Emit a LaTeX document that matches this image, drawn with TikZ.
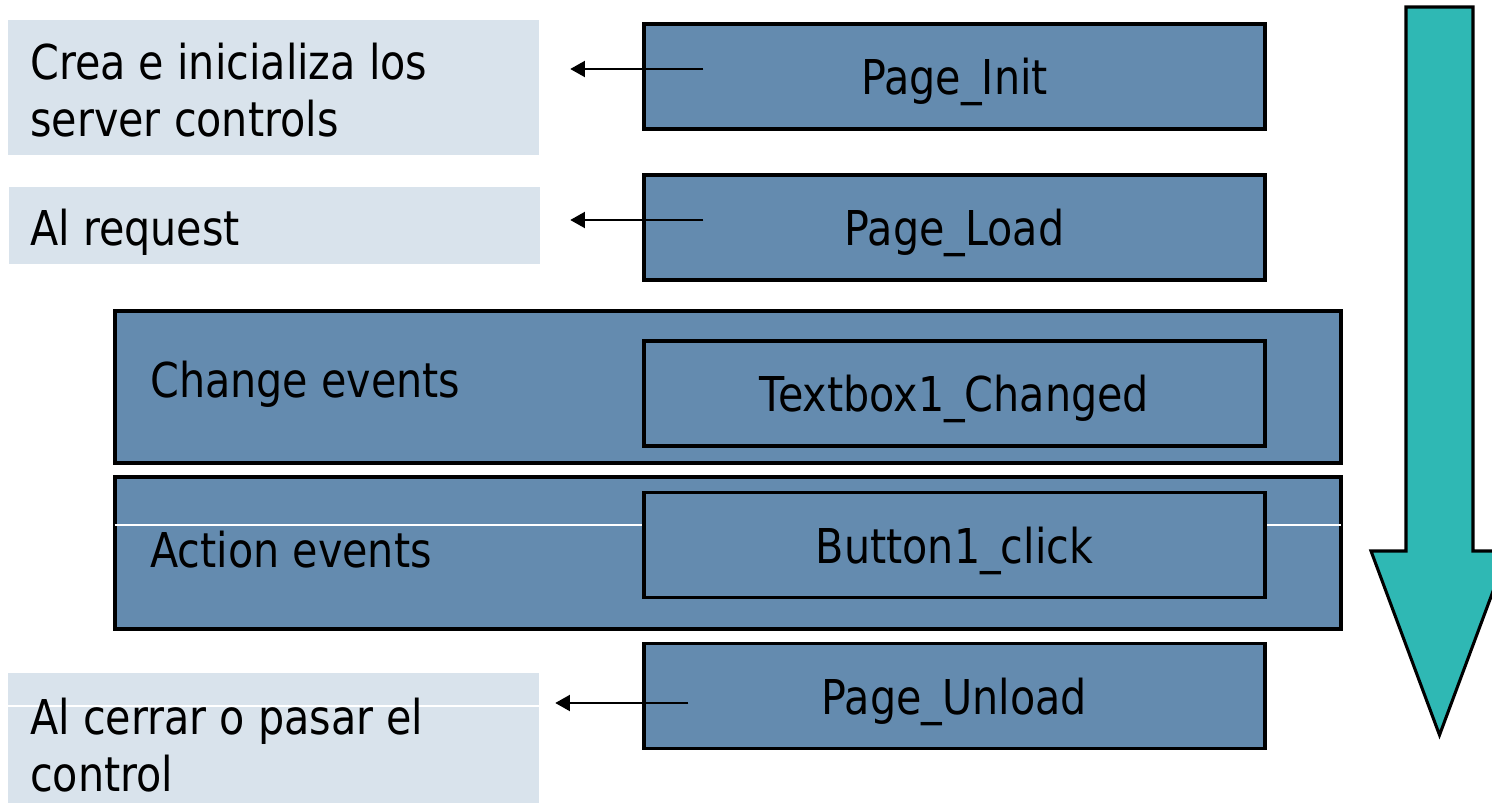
\documentclass[tikz,border=0pt]{standalone}
\usepackage{fontspec}
\setmainfont[FakeStretch=0.86]{DejaVu Sans}
\usetikzlibrary{arrows.meta,calc}
\definecolor{darkbox}{RGB}{100,139,175}
\definecolor{lightbox}{RGB}{217,227,236}
\definecolor{arrowteal}{RGB}{47,184,180}
\begin{document}
\begin{tikzpicture}[x=0.75pt,y=-0.75pt,
  txt/.style={font=\fontsize{36pt}{43pt}\selectfont, inner sep=0pt},
  evbox/.style={draw=black, line width=2.3pt, fill=darkbox, minimum width=465.75pt, minimum height=78.75pt, inner sep=0pt, text depth=0pt, font=\fontsize{36pt}{43pt}\selectfont},
  groupbox/.style={draw=black, line width=2.3pt, fill=darkbox, minimum width=919.5pt, minimum height=114pt, inner sep=0pt},
  notebox/.style={fill=lightbox, minimum width=398.25pt, inner sep=0pt},
  notetext/.style={txt, align=left, anchor=west},
  link/.style={line width=1.5pt, -{Triangle[length=11pt,width=12pt]}},
  bigarrow/.style={draw=black, line width=2.3pt, fill=arrowteal, line join=miter}
]
\clip (0,0) rectangle (1492,803);
\fill[white] (0,0) rectangle (1492,803);

% light note boxes
\node[notebox, minimum height=101.25pt] (crea) at (273.5,87.5) {};
\node[notetext] (creat) at (30,90) {Crea e inicializa los\\server controls};
\node[notebox, minimum height=57.75pt] (req) at (274.5,225.5) {};
\node[notetext] (reqt) at (30,232) {Al request};
\node[notebox, minimum height=97.5pt] (cer) at (273.5,738) {};
\draw[white, line width=1pt] (cer.west |- 0,706) -- (cer.east |- 0,706);
\node[notetext] (cert) at (30,745) {Al cerrar o pasar el\\control};

% event boxes
\node[evbox] (init) at (954.5,76.5) {Page\_Init};
\node[evbox] (load) at (954.5,227.5) {Page\_Load};

\node[groupbox] (chg) at (728,387) {};
\node[txt, anchor=west] (chgt) at (150,384) {Change events};
\node[evbox] (tb) at (954.5,393.5) {Textbox1\_Changed};

\node[groupbox] (act) at (728,553) {};
\draw[white, line width=1pt] ($(act.west)+(1.5,-28)$) -- ($(act.east)+(-1.5,-28)$);
\node[txt, anchor=west] (actt) at (150,550) {Action events};
\node[evbox] (btn) at (954.5,545) {Button1\_click};

\node[evbox] (unl) at (954.5,696) {Page\_Unload};

% connectors
\draw[link] ($(init.west)+(61,-7.5)$) -- ($(crea.east)+(31,-18.5)$);
\draw[link] ($(load.west)+(61,-7.5)$) -- ($(req.east)+(30,-5.5)$);
\draw[link] ($(unl.west)+(46,7)$) -- ($(cer.east)+(16,-35)$);

% big arrow
\draw[bigarrow] (1406,7) -- (1473,7) -- (1473,551) -- (1508,551) -- (1439.5,735) -- (1371,551) -- (1406,551) -- cycle;
\end{tikzpicture}
\end{document}
